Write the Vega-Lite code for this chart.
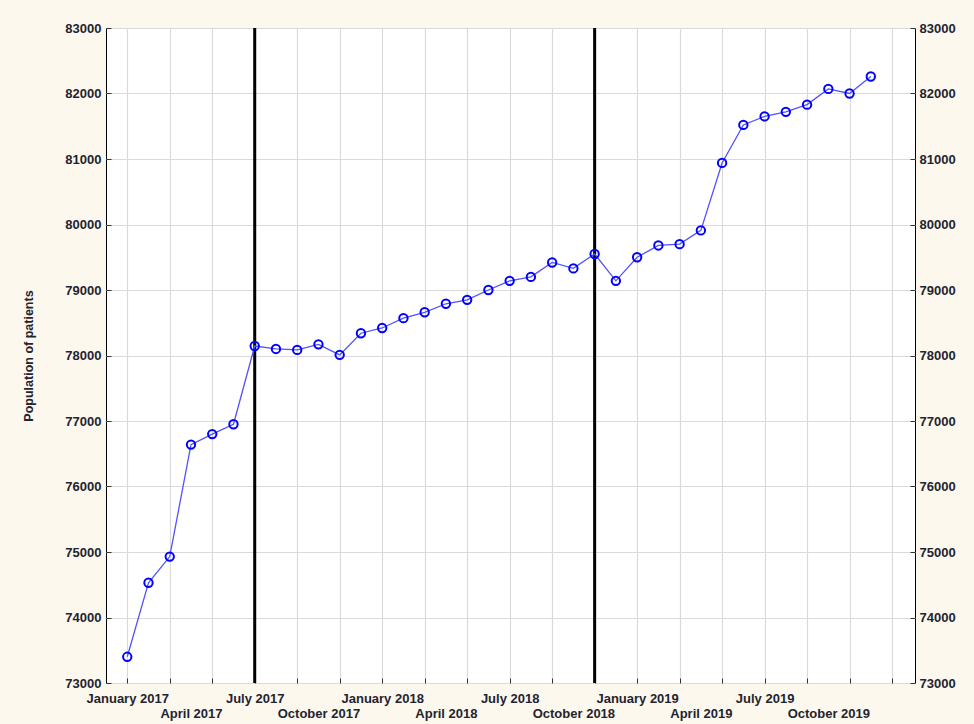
{
  "$schema": "https://vega.github.io/schema/vega-lite/v6.json",
  "width": 809,
  "height": 655,
  "autosize": {"type": "none"},
  "padding": {"left": 106, "top": 28, "right": 59, "bottom": 41},
  "background": "#fdf8ee",
  "config": {
    "view": {"stroke": "black", "strokeWidth": 1, "fill": "white"},
    "font": "Liberation Sans",
    "axis": {
      "labelFont": "Liberation Sans",
      "labelFontSize": 13,
      "labelFontWeight": "bold",
      "labelColor": "#1e2430",
      "titleFont": "Liberation Sans",
      "titleColor": "#1e2430",
      "gridColor": "#dadada",
      "gridWidth": 1.2,
      "gridOpacity": 1
    }
  },
  "data": {
    "values": [
      {"t": 0, "month": "2017-01", "patients": 73400},
      {"t": 1, "month": "2017-02", "patients": 74530},
      {"t": 2, "month": "2017-03", "patients": 74930},
      {"t": 3, "month": "2017-04", "patients": 76640},
      {"t": 4, "month": "2017-05", "patients": 76800},
      {"t": 5, "month": "2017-06", "patients": 76950},
      {"t": 6, "month": "2017-07", "patients": 78145},
      {"t": 7, "month": "2017-08", "patients": 78100},
      {"t": 8, "month": "2017-09", "patients": 78085},
      {"t": 9, "month": "2017-10", "patients": 78170},
      {"t": 10, "month": "2017-11", "patients": 78010},
      {"t": 11, "month": "2017-12", "patients": 78340},
      {"t": 12, "month": "2018-01", "patients": 78420},
      {"t": 13, "month": "2018-02", "patients": 78570},
      {"t": 14, "month": "2018-03", "patients": 78660},
      {"t": 15, "month": "2018-04", "patients": 78790},
      {"t": 16, "month": "2018-05", "patients": 78850},
      {"t": 17, "month": "2018-06", "patients": 79000},
      {"t": 18, "month": "2018-07", "patients": 79140},
      {"t": 19, "month": "2018-08", "patients": 79200},
      {"t": 20, "month": "2018-09", "patients": 79420},
      {"t": 21, "month": "2018-10", "patients": 79330},
      {"t": 22, "month": "2018-11", "patients": 79550},
      {"t": 23, "month": "2018-12", "patients": 79140},
      {"t": 24, "month": "2019-01", "patients": 79500},
      {"t": 25, "month": "2019-02", "patients": 79680},
      {"t": 26, "month": "2019-03", "patients": 79700},
      {"t": 27, "month": "2019-04", "patients": 79910},
      {"t": 28, "month": "2019-05", "patients": 80940},
      {"t": 29, "month": "2019-06", "patients": 81520},
      {"t": 30, "month": "2019-07", "patients": 81650},
      {"t": 31, "month": "2019-08", "patients": 81720},
      {"t": 32, "month": "2019-09", "patients": 81830},
      {"t": 33, "month": "2019-10", "patients": 82070},
      {"t": 34, "month": "2019-11", "patients": 82000},
      {"t": 35, "month": "2019-12", "patients": 82260}
    ]
  },
  "layer": [
    {
      "data": {"values": [{"t": 6, "event": "July 2017"}, {"t": 22, "event": "November 2018"}]},
      "mark": {"type": "rule", "color": "black", "strokeWidth": 3},
      "encoding": {
        "x": {
          "field": "t", "type": "quantitative",
          "scale": {"domain": [-1, 37.08], "nice": false, "zero": false},
          "axis": {
            "orient": "bottom",
            "values": [0, 2, 4, 6, 8, 10, 12, 14, 16, 18, 20, 22, 24, 26, 28, 30, 32, 34, 36],
            "grid": true, "labels": false, "ticks": true, "tickSize": -5, "tickColor": "#333",
            "domain": false, "title": null
          }
        }
      }
    },
    {
      "mark": {"type": "line", "color": "#5252ff", "strokeWidth": 1.3},
      "encoding": {
        "x": {
          "field": "t", "type": "quantitative",
          "axis": {
            "orient": "bottom",
            "values": [0, 6, 12, 18, 24, 30],
            "labelExpr": "['January','April','July','October'][floor((datum.value % 12) / 3)] + ' ' + (2017 + floor(datum.value / 12))",
            "grid": false, "ticks": false, "domain": false, "labelPadding": 9, "title": null
          }
        },
        "y": {
          "field": "patients", "type": "quantitative",
          "scale": {"domain": [73000, 83000], "nice": false, "zero": false},
          "axis": {
            "orient": "left",
            "values": [73000, 74000, 75000, 76000, 77000, 78000, 79000, 80000, 81000, 82000, 83000],
            "format": "d", "grid": true, "ticks": true, "tickSize": -5, "tickColor": "#333",
            "domain": false, "labelPadding": 10,
            "title": "Population of patients", "titleFontSize": 12.5, "titleFontWeight": "bold", "titlePadding": 29
          }
        }
      }
    },
    {
      "mark": {"type": "point", "shape": "circle", "filled": false, "color": "#0000ff", "strokeWidth": 2, "size": 70, "opacity": 1},
      "encoding": {
        "x": {
          "field": "t", "type": "quantitative",
          "axis": {
            "orient": "bottom",
            "values": [3, 9, 15, 21, 27, 33],
            "labelExpr": "['January','April','July','October'][floor((datum.value % 12) / 3)] + ' ' + (2017 + floor(datum.value / 12))",
            "grid": false, "ticks": false, "domain": false, "labelPadding": 24, "title": null
          }
        },
        "y": {
          "field": "patients", "type": "quantitative",
          "axis": {
            "orient": "right",
            "values": [73000, 74000, 75000, 76000, 77000, 78000, 79000, 80000, 81000, 82000, 83000],
            "format": "d", "grid": false, "ticks": true, "tickSize": -5, "tickColor": "#333",
            "domain": false, "labelPadding": 9, "title": null
          }
        }
      }
    }
  ],
  "resolve": {"axis": {"x": "independent", "y": "independent"}}
}
